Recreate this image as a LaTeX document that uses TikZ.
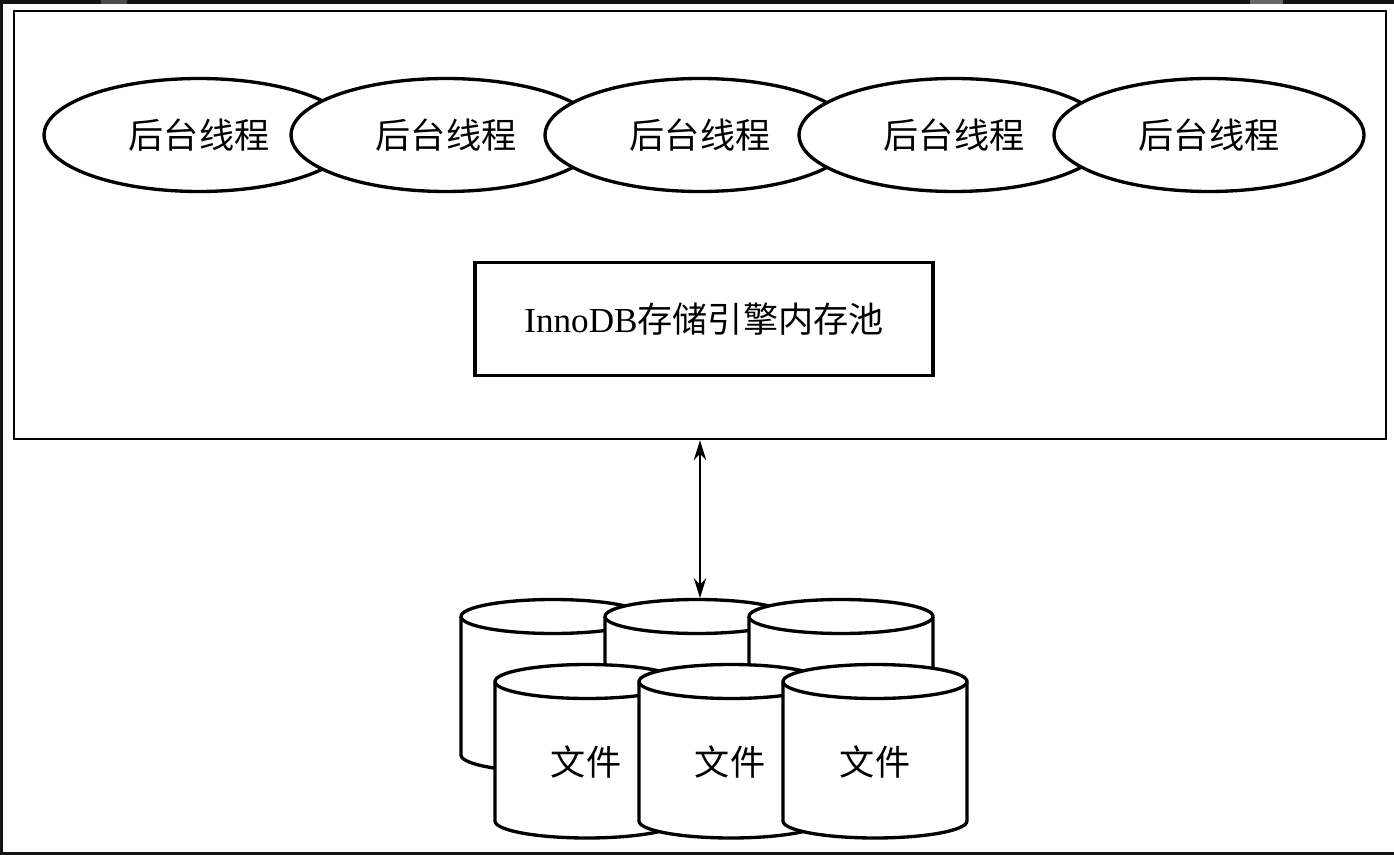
\documentclass[tikz,border=0pt]{standalone}
\usepackage{fontspec}
\setmainfont{Liberation Serif}
\newfontfamily\cjk{Noto Sans CJK SC}
\usetikzlibrary{shapes.geometric, arrows.meta}

\tikzset{
	thread/.style={ellipse, draw=black, fill=white, line width=1.9pt, minimum width=6.2cm, minimum height=2.26cm, inner sep=0pt, font=\fontsize{20pt}{20pt}\selectfont\cjk},
	diskline/.style={draw=black, fill=white, line width=1.9pt, line join=round},
	diskend/.style={start angle=180, end angle=360, x radius=1.84cm, y radius=0.34cm},
	disktext/.style={font=\fontsize{20pt}{20pt}\selectfont\cjk},
}
% centre x, y of the top end, y of the bottom end
\newcommand{\filedisk}[3]{
	\path[diskline] (#1-92,#2) -- (#1-92,#3) arc[diskend] -- (#1+92,#2) arc[diskend, start angle=0, end angle=180] -- cycle;
	\draw[diskline, fill=none] (#1-92,#2) arc[diskend];
}

\begin{document}
\begin{tikzpicture}[x=0.02cm,y=-0.02cm]
\useasboundingbox (0,0) rectangle (1394,855);
%window edges
	\fill [color=black!92] (0,0) rectangle (1394,4.5);
	\fill [color=black!92] (0,0) rectangle (3,855);
	\fill [color=black!92] (0,852) rectangle (1394,855);
	\fill [color=black!70] (101,0) rectangle (127,4.5);
	\fill [color=black!60] (1250,0) rectangle (1283,4.5);
%engine box
	\node[draw=black, line width=1.5pt, minimum width=27.44cm, minimum height=8.56cm, inner sep=0pt] (engine) at (700,225) {};
	\node[thread] (threada) at (199,135) {后台线程};
	\node[thread] (threadb) at (446,135) {后台线程};
	\node[thread] (threadc) at (700,135) {后台线程};
	\node[thread] (threadd) at (954,135) {后台线程};
	\node[thread] (threade) at (1209,135) {后台线程};
	\node[draw=black, line width=1.9pt, minimum width=9.16cm, minimum height=2.26cm, inner sep=0pt, font=\fontsize{20pt}{20pt}\selectfont] (pool) at (704,319) {InnoDB{\cjk 存储引擎内存池}};
%files
	\filedisk{553}{616.5}{755}
	\filedisk{697}{616.5}{755}
	\filedisk{841}{616.5}{755}
	\filedisk{587}{681.5}{821}
	\filedisk{731}{681.5}{821}
	\filedisk{875}{681.5}{821}
	\node[disktext] (filea) at (586,762) {文件};
	\node[disktext] (fileb) at (730,762) {文件};
	\node[disktext] (filec) at (875,762) {文件};
	\coordinate (diskin) at (700,598);
	\draw[{Stealth[length=0.4cm,width=0.25cm]}-{Stealth[length=0.4cm,width=0.25cm]}, line width=0.9pt] (engine.south) -- (diskin);
\end{tikzpicture}
\end{document}
